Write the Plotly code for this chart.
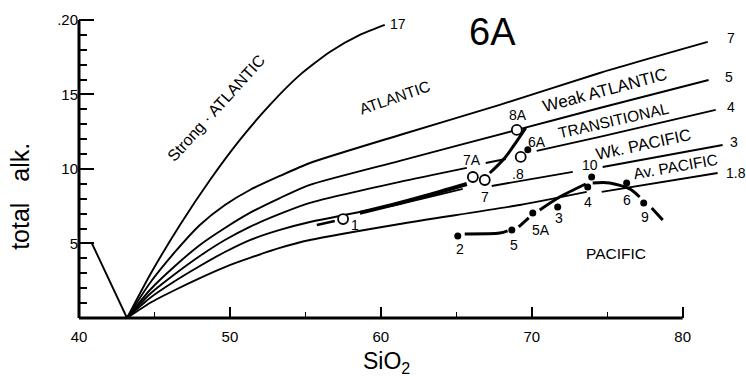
import plotly.graph_objects as go

# ---------------- data (x = SiO2, y = total alkali) ----------------
# reference lines; None = break in the drawn line
c17_x = [43.18, 44.70, 46.69, 48.68, 50.66, 52.65, 54.64, 56.62, 58.61, 60.26]
c17_y = [0, 2.89, 6.24, 9.26, 11.95, 14.30, 16.31, 17.85, 18.99, 19.66]

c7_x = [43.18, 44.70, 46.36, 48.01, 49.67, 51.32, 53.31, 55.30, 61.26, 67.88, 74.50, 81.66]
c7_y = [0, 2.35, 4.43, 6.24, 7.58, 8.59, 9.53, 10.40, 12.28, 14.30, 16.44, 18.52]

c5_x = [43.18, 44.70, 46.36, 48.01, 49.67, 51.32, 53.31, 55.30, 61.26, 69.01, 74.50, 81.72]
c5_y = [0, 1.88, 3.49, 4.90, 6.04, 7.05, 8.05, 8.93, 10.54, 12.62, 14.09, 15.97]

c4_x = [43.18, 44.70, 46.36, 48.01, 49.67, 51.32, 53.31, 55.30, 61.26, 65.70, None,
        66.95, 68.28, None, 70.33, 74.50, 82.19]
c4_y = [0, 1.61, 2.95, 4.16, 5.23, 6.11, 6.98, 7.72, 9.13, 10.07, None,
        10.40, 10.67, None, 11.21, 12.15, 13.96]

c3_x = [43.18, 44.70, 46.36, 48.01, 49.67, 51.32, 53.31, 55.30, 61.26, 65.43, None,
        67.35, 72.72, None, 74.70, 82.65]
c3_y = [0, 1.34, 2.48, 3.49, 4.43, 5.23, 5.91, 6.44, 7.65, 8.66, None,
        8.86, 9.80, None, 10.13, 11.61]

c18_x = [43.18, 44.70, 46.36, 48.01, 49.67, 51.32, 53.31, 55.30, 61.26, 69.21, 73.64, None,
         74.64, 82.32]
c18_y = [0, 1.01, 1.88, 2.68, 3.42, 4.03, 4.70, 5.23, 6.31, 7.58, 8.46, None,
         8.46, 9.73]

left_x = [40.86, 43.18]
left_y = [5.0, 0.0]

line_names = ["17", "7", "5", "4", "3", "1.8"]

# samples
open_names = ["1", "7A", "7", "8", "8A"]
open_x = [57.50, 66.10, 66.89, 69.27, 69.01]
open_y = [6.64, 9.46, 9.26, 10.81, 12.62]

dot_names = ["6A", "2", "5", "5A", "3", "4", "10", "6", "9"]
dot_x = [69.74, 65.10, 68.68, 70.07, 71.72, 73.71, 73.97, 76.29, 77.42]
dot_y = [11.28, 5.50, 5.91, 7.05, 7.45, 8.79, 9.46, 9.06, 7.72]

# trend lines through the samples
atl_thin_x = [55.76, 56.95]
atl_thin_y = [6.24, 6.51]
atl_thick_x = [58.61, 61.26, 63.91, 65.70]
atl_thick_y = [7.05, 7.72, 8.46, 8.99]
atl_up_x = [67.22, 68.21, 69.07, 69.60]
atl_up_y = [9.73, 10.74, 11.95, 12.75]

pac_x = [65.56, 67.88, 68.40, None, 69.14, 69.80, None, 70.53, 71.85, 73.58, None,
         74.04, 75.17, 76.49, 77.15, None, 77.95, 78.68]
pac_y = [5.64, 5.70, 5.85, None, 6.11, 6.71, None, 7.25, 8.12, 8.99, None,
         9.06, 9.06, 8.66, 8.12, None, 7.38, 6.58]

x_ticks = [40, 50, 60, 70, 80]
x_minor = [45, 55, 65, 75]
y_ticks = [5, 10, 15, 20]
y_ticktext = ["5", "10", "15", ".20"]
y_minor = [1, 2, 3, 4, 6, 7, 8, 9, 11, 12, 13, 14, 16, 17, 18, 19]

# ---------------- figure ----------------
FONT = "Liberation Sans"
fig = go.Figure()

curve_style = dict(color="black", width=1.9, shape="spline", smoothing=0.6)
for xs, ys in [(c17_x, c17_y), (c7_x, c7_y), (c5_x, c5_y), (c4_x, c4_y),
               (c3_x, c3_y), (c18_x, c18_y)]:
    fig.add_trace(go.Scatter(x=xs, y=ys, mode="lines", line=curve_style,
                             hoverinfo="skip", showlegend=False))
fig.add_trace(go.Scatter(x=left_x, y=left_y, mode="lines",
                         line=dict(color="black", width=1.9), showlegend=False))

# trend lines
fig.add_trace(go.Scatter(x=atl_thin_x, y=atl_thin_y, mode="lines",
                         line=dict(color="black", width=2.5), showlegend=False))
fig.add_trace(go.Scatter(x=atl_thick_x, y=atl_thick_y, mode="lines",
                         line=dict(color="black", width=4, shape="spline"), showlegend=False))
fig.add_trace(go.Scatter(x=atl_up_x, y=atl_up_y, mode="lines",
                         line=dict(color="black", width=3, shape="spline"), showlegend=False))
fig.add_trace(go.Scatter(x=pac_x, y=pac_y, mode="lines",
                         line=dict(color="black", width=3, shape="spline", smoothing=0.8),
                         showlegend=False))

# samples
fig.add_trace(go.Scatter(x=open_x, y=open_y, mode="markers", text=open_names,
                         marker=dict(symbol="circle", size=10, color="white",
                                     line=dict(color="black", width=1.8)),
                         showlegend=False))
fig.add_trace(go.Scatter(x=dot_x, y=dot_y, mode="markers", text=dot_names,
                         marker=dict(symbol="circle", size=7, color="black"),
                         showlegend=False))

# ---------------- text ----------------
def txt(x, y, s, size=13, angle=0, xanchor="center", xref="x", yref="y"):
    fig.add_annotation(x=x, y=y, text=s, showarrow=False, xref=xref, yref=yref,
                       textangle=angle, xanchor=xanchor, yanchor="middle",
                       font=dict(family=FONT, size=size, color="black"))

# curve end labels
end_labels = [(60.5, 19.75, "17", "left"), (83.18, 18.79, "7", "center"),
              (83.05, 16.17, "5", "center"), (83.18, 14.16, "4", "center"),
              (83.38, 11.81, "3", "center"), (83.51, 9.73, "1.8", "center")]
for x, y, s, xa in end_labels:
    txt(x, y, s, size=14, xanchor=xa)

# sample labels
point_labels = [(58.28, 6.24, "1"), (66.03, 10.60, "7A"), (66.89, 8.12, "7"),
                (69.07, 9.66, ".8"), (70.33, 11.81, "6A"), (69.07, 13.62, "8A"),
                (73.84, 10.27, "10"), (73.71, 7.79, "4"), (76.29, 7.92, "6"),
                (77.48, 6.78, "9"), (71.79, 6.71, "3"), (70.60, 5.91, "5A"),
                (68.81, 4.90, "5"), (65.23, 4.63, "2")]
for x, y, s in point_labels:
    txt(x, y, s, size=14)

# field labels
txt(49.14, 14.09, "Strong · ATLANTIC", size=16, angle=-48)
txt(60.93, 14.77, "ATLANTIC", size=15.5, angle=-19)
txt(74.83, 15.25, "Weak ATLANTIC", size=17, angle=-15)
txt(75.43, 13.25, "TRANSITIONAL", size=15.5, angle=-13)
txt(77.42, 11.65, "Wk. PACIFIC", size=16.5, angle=-12)
txt(79.54, 10.15, "Av. PACIFIC", size=15.5, angle=-10)
txt(75.56, 4.36, "PACIFIC", size=15.5)
txt(67.42, 19.19, "6A", size=38)

# axis titles
txt(60.4, -0.141, "SiO<sub>2</sub>", size=23, yref="paper")
txt(-0.089, 0.39, "total\u00a0\u00a0\u00a0alk.", size=25, angle=-90, xref="paper", yref="paper")

# axis lines (x axis stops at 80, y axis at 20)
fig.add_shape(type="line", xref="x", yref="paper", x0=40, x1=80, y0=0, y1=0,
              line=dict(color="black", width=3))
fig.add_shape(type="line", xref="paper", yref="y", x0=0, x1=0, y0=0, y1=20,
              line=dict(color="black", width=3))

fig.update_layout(
    width=746, height=379,
    margin=dict(l=79, r=3, t=5, b=61),
    paper_bgcolor="white", plot_bgcolor="white",
    showlegend=False,
    font=dict(family=FONT, color="black"),
    xaxis=dict(range=[40, 84], showgrid=False, zeroline=False, showline=False,
               ticks="inside", tickvals=x_ticks, ticklen=11, tickwidth=1.6,
               tickcolor="black", tickfont=dict(size=15, family=FONT),
               ticklabelstandoff=8,
               minor=dict(tickvals=x_minor, ticks="inside", ticklen=6,
                          tickwidth=1.4, tickcolor="black", showgrid=False)),
    yaxis=dict(range=[0, 21.0], showgrid=False, zeroline=False, showline=False,
               ticks="inside", tickvals=y_ticks, ticktext=y_ticktext, ticklen=15,
               tickwidth=1.8, tickcolor="black", tickfont=dict(size=15, family=FONT),
               minor=dict(tickvals=y_minor, ticks="inside", ticklen=8,
                          tickwidth=1.6, tickcolor="black", showgrid=False)),
)

fig.write_html("out.html")
